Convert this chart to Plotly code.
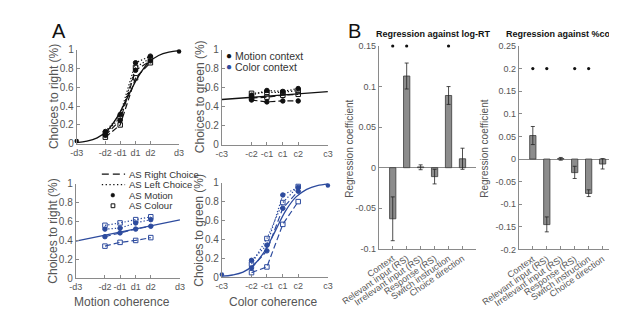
import plotly.graph_objects as go

W, H = 617, 309
FONT = "Liberation Sans"
BLUE = "#2D4B9E"
BLACK = "#111111"
AXC = "#8a8a8a"
TXT = "#555555"

# ---------------- Panel A data ----------------
coh_vals = [-1.0, -0.44, -0.15, 0.15, 0.44, 1.0]
motion_ticks = ["-d3", "-d2", "-d1", "d1", "d2", "d3"]
color_ticks = ["-c3", "-c2", "-c1", "c1", "c2", "c3"]
y_ticks = [0, 0.2, 0.4, 0.6, 0.8, 1]
y_ticktext = ["0", "0.2", "0.4", "0.6", "0.8", "1"]

as_x = [-0.44, -0.15, 0.15, 0.44]
fit_x = [-1.0, -0.8, -0.6, -0.4, -0.2, 0.0, 0.2, 0.4, 0.6, 0.8, 1.0]
end_x = [-1.0, 1.0]

# top-left: motion context, choices to right vs motion coherence
tl_fit = [0.012, 0.027, 0.063, 0.14, 0.29, 0.50, 0.71, 0.86, 0.937, 0.973, 0.988]
tl_end = [0.03, 0.98]
tl_right_motion = [0.09, 0.25, 0.78, 0.88]
tl_right_colour = [0.07, 0.20, 0.70, 0.86]
tl_left_motion = [0.13, 0.31, 0.86, 0.93]
tl_left_colour = [0.11, 0.28, 0.81, 0.91]

# top-right: motion context, choices to green vs color coherence
tr_fit = [0.475, 0.557]
tr_right_motion = [0.47, 0.45, 0.46, 0.46]
tr_right_colour = [0.49, 0.50, 0.52, 0.53]
tr_left_motion = [0.52, 0.57, 0.56, 0.59]
tr_left_colour = [0.54, 0.55, 0.55, 0.57]

# bottom-left: color context, choices to right vs motion coherence
bl_fit = [0.393, 0.617]
bl_right_motion = [0.44, 0.48, 0.52, 0.55]
bl_right_colour = [0.34, 0.38, 0.40, 0.43]
bl_left_motion = [0.52, 0.53, 0.585, 0.62]
bl_left_colour = [0.56, 0.585, 0.62, 0.65]

# bottom-right: color context, choices to green vs color coherence
br_fit = [0.012, 0.025, 0.055, 0.13, 0.27, 0.48, 0.70, 0.85, 0.93, 0.97, 0.985]
br_end = [0.03, 0.97]
br_right_motion = [0.10, 0.28, 0.73, 0.91]
br_right_colour = [0.05, 0.11, 0.56, 0.80]
br_left_motion = [0.18, 0.34, 0.87, 0.95]
br_left_colour = [0.14, 0.41, 0.79, 0.96]

# ---------------- Panel B data ----------------
categories = ["Context", "Relevant input (RS)", "Irrelevant input (RS)",
              "Response (RS)", "Switch instruction", "Choice direction"]
rt_coef = [-0.063, 0.113, 0.001, -0.011, 0.089, 0.011]
rt_upper = [-0.036, 0.129, 0.0035, -0.002, 0.100, 0.024]
rt_lower = [-0.090, 0.097, -0.0025, -0.020, 0.078, -0.002]
rt_sig = [True, True, False, False, True, False]
rt_sig_level = 0.15

corr_coef = [0.052, -0.145, 0.001, -0.030, -0.076, -0.011]
corr_upper = [0.072, -0.128, 0.0035, -0.016, -0.068, 0.001]
corr_lower = [0.032, -0.161, -0.0025, -0.043, -0.083, -0.022]
corr_sig = [True, True, False, True, True, False]
corr_sig_level = 0.2


def fx(p):
    return p / W


def fy(p):
    return 1 - p / H


fig = go.Figure()


def add_psy(ax, color, fitx, fity, right_m, right_c, left_m, left_c, ends=None):
    xa, ya = "x" + ax, "y" + ax
    common = dict(xaxis=xa, yaxis=ya, showlegend=False, cliponaxis=False, hoverinfo="skip")
    fig.add_trace(go.Scatter(x=fitx, y=fity, mode="lines", line=dict(color=color, width=1.3),
                             line_shape="spline", **common))
    if ends is not None:
        fig.add_trace(go.Scatter(x=end_x, y=ends, mode="markers",
                                 marker=dict(color=color, size=4.5), **common))
    for ys, dash, sym in [(right_m, "6px,3px", "circle"), (right_c, "6px,3px", "square-open"),
                          (left_m, "1.3px,2px", "circle"), (left_c, "1.3px,2px", "square-open")]:
        fig.add_trace(go.Scatter(x=as_x, y=ys, mode="lines+markers",
                                 line=dict(color=color, width=1.2, dash=dash),
                                 marker=dict(color=color, size=4.5, symbol=sym,
                                             line=dict(color=color, width=1)),
                                 **common))


add_psy("", BLACK, fit_x, tl_fit, tl_right_motion, tl_right_colour, tl_left_motion, tl_left_colour, tl_end)
add_psy("2", BLACK, end_x, tr_fit, tr_right_motion, tr_right_colour, tr_left_motion, tr_left_colour)
add_psy("3", BLUE, end_x, bl_fit, bl_right_motion, bl_right_colour, bl_left_motion, bl_left_colour)
add_psy("4", BLUE, fit_x, br_fit, br_right_motion, br_right_colour, br_left_motion, br_left_colour, br_end)


def add_bars(ax, coef, upper, lower, sig, level):
    xa, ya = "x" + ax, "y" + ax
    fig.add_trace(go.Bar(
        x=categories, y=coef, xaxis=xa, yaxis=ya, width=0.45,
        marker=dict(color="#8c8c8c", line=dict(color="#3a3a3a", width=0.8)),
        error_y=dict(type="data", symmetric=False,
                     array=[u - c for u, c in zip(upper, coef)],
                     arrayminus=[c - l for c, l in zip(coef, lower)],
                     color="#222222", thickness=0.8, width=2),
        showlegend=False, hoverinfo="skip"))
    sx = [c for c, s in zip(categories, sig) if s]
    fig.add_trace(go.Scatter(x=sx, y=[level] * len(sx), xaxis=xa, yaxis=ya, mode="markers",
                             marker=dict(color="#111111", size=3.2), showlegend=False,
                             cliponaxis=False, hoverinfo="skip"))


add_bars("5", rt_coef, rt_upper, rt_lower, rt_sig, rt_sig_level)
add_bars("6", corr_coef, corr_upper, corr_lower, corr_sig, corr_sig_level)

axis_common = dict(showline=True, linecolor=AXC, linewidth=1, ticks="inside", ticklen=3,
                   tickcolor=AXC, showgrid=False, zeroline=False, mirror=False,
                   tickfont=dict(family=FONT, size=10, color=TXT))


def a_xaxis(x0, x1, anchor, labels):
    d = dict(axis_common)
    d["tickfont"] = dict(family=FONT, size=9, color=TXT)
    return dict(domain=[fx(x0), fx(x1)], anchor=anchor, range=[-1, 1], tickangle=0,
                tickmode="array", tickvals=coh_vals, ticktext=labels, **d)


def a_yaxis(y0, y1, anchor):
    return dict(domain=[fy(y1), fy(y0)], anchor=anchor, range=[0, 1],
                tickmode="array", tickvals=y_ticks, ticktext=y_ticktext, **axis_common)


b_common = dict(axis_common)
b_common["tickfont"] = dict(family=FONT, size=9, color=TXT)

fig.update_layout(
    width=W, height=H, margin=dict(l=0, r=0, t=0, b=0),
    paper_bgcolor="white", plot_bgcolor="white",
    font=dict(family=FONT, color=TXT),
    xaxis=a_xaxis(33, 143, "y", motion_ticks),
    yaxis=a_yaxis(37, 135, "x"),
    xaxis2=a_xaxis(189, 303, "y2", color_ticks),
    yaxis2=a_yaxis(37, 136, "x2"),
    xaxis3=a_xaxis(32, 144, "y3", motion_ticks),
    yaxis3=a_yaxis(176.5, 275, "x3"),
    xaxis4=a_xaxis(189, 303, "y4", color_ticks),
    yaxis4=a_yaxis(175.5, 274, "x4"),
    xaxis5=dict(domain=[fx(357.7), fx(462.7)], anchor="y5", type="category",
                categoryorder="array", categoryarray=categories, range=[-1, 6],
                tickangle=-35, **b_common),
    yaxis5=dict(domain=[fy(244.3), fy(33.3)], anchor="x5", range=[-0.1, 0.15],
                tickmode="array", tickvals=[-0.1, -0.05, 0, 0.05, 0.1, 0.15],
                ticktext=["-0.1", "-0.05", "0", "0.05", "0.1", "0.15"],
                **{k: v for k, v in b_common.items() if k != "zeroline"},
                zeroline=True, zerolinecolor=AXC, zerolinewidth=1),
    xaxis6=dict(domain=[fx(508.3), fx(613.3)], anchor="y6", type="category",
                categoryorder="array", categoryarray=categories, range=[-1, 6],
                tickangle=-35, **b_common),
    yaxis6=dict(domain=[fy(245), fy(33.3)], anchor="x6", range=[-0.2, 0.25],
                tickmode="array",
                tickvals=[-0.2, -0.15, -0.1, -0.05, 0, 0.05, 0.1, 0.15, 0.2, 0.25],
                ticktext=["-0.2", "-0.15", "-0.1", "-0.05", "0", "0.05", "0.1", "0.15", "0.2", "0.25"],
                **{k: v for k, v in b_common.items() if k != "zeroline"},
                zeroline=True, zerolinecolor=AXC, zerolinewidth=1),
)

ann = []


def text(x, y, s, size, color=TXT, angle=0, xanchor="center", yanchor="middle", bold=False):
    ann.append(dict(x=fx(x), y=fy(y), xref="paper", yref="paper", text=("<b>%s</b>" % s) if bold else s,
                    showarrow=False, textangle=angle, xanchor=xanchor, yanchor=yanchor,
                    font=dict(family=FONT, size=size, color=color)))


text(4, 4, "A", 20, color="#111", xanchor="left", yanchor="top")
text(322, 4, "B", 20, color="#111", xanchor="left", yanchor="top")
text(8, 86, "Choices to right (%)", 12, angle=-90)
text(165, 86, "Choices to green (%)", 12, angle=-90)
text(8, 226, "Choices to right (%)", 12, angle=-90)
text(165, 225, "Choices to green (%)", 12, angle=-90)
text(82, 300, "Motion coherence", 12)
text(244, 300, "Color coherence", 12)
text(416, 21, "Regression against log-RT", 9, color="#111", bold=True)
text(555, 21, "Regression against %corr", 9, color="#111", bold=True)
text(326, 140, "Regression coefficient", 10, angle=-90)
text(471, 140, "Regression coefficient", 10, angle=-90)

# context legend
text(196.5, 43.5, "●", 10, color=BLACK)
text(201, 43.5, "Motion context", 10.5, color="#333", xanchor="left")
text(196.5, 55, "●", 10, color=BLUE)
text(201, 55, "Color context", 10.5, color="#333", xanchor="left")

# AS legend
text(87, 166.5, "AS Right Choice", 9.5, color="#333", xanchor="left")
text(87, 177.5, "AS Left Choice", 9.5, color="#333", xanchor="left")
text(87, 188.5, "AS Motion", 9.5, color="#333", xanchor="left")
text(87, 199.5, "AS Colour", 9.5, color="#333", xanchor="left")

shapes = [
    dict(type="line", xref="paper", yref="paper", x0=fx(60), x1=fx(85), y0=fy(166.5), y1=fy(166.5),
         line=dict(color=BLACK, width=1.2, dash="7px,4px")),
    dict(type="line", xref="paper", yref="paper", x0=fx(60), x1=fx(85), y0=fy(177.5), y1=fy(177.5),
         line=dict(color=BLACK, width=1.2, dash="1.3px,2.5px")),
    dict(type="circle", xref="paper", yref="paper", x0=fx(69.8), x1=fx(73.8), y0=fy(190.5), y1=fy(186.5),
         fillcolor=BLACK, line=dict(color=BLACK, width=0.5)),
    dict(type="rect", xref="paper", yref="paper", x0=fx(70), x1=fx(74), y0=fy(201.5), y1=fy(197.5),
         line=dict(color=BLACK, width=1)),
]

fig.update_layout(annotations=ann, shapes=shapes)
fig.write_html("out.html")
